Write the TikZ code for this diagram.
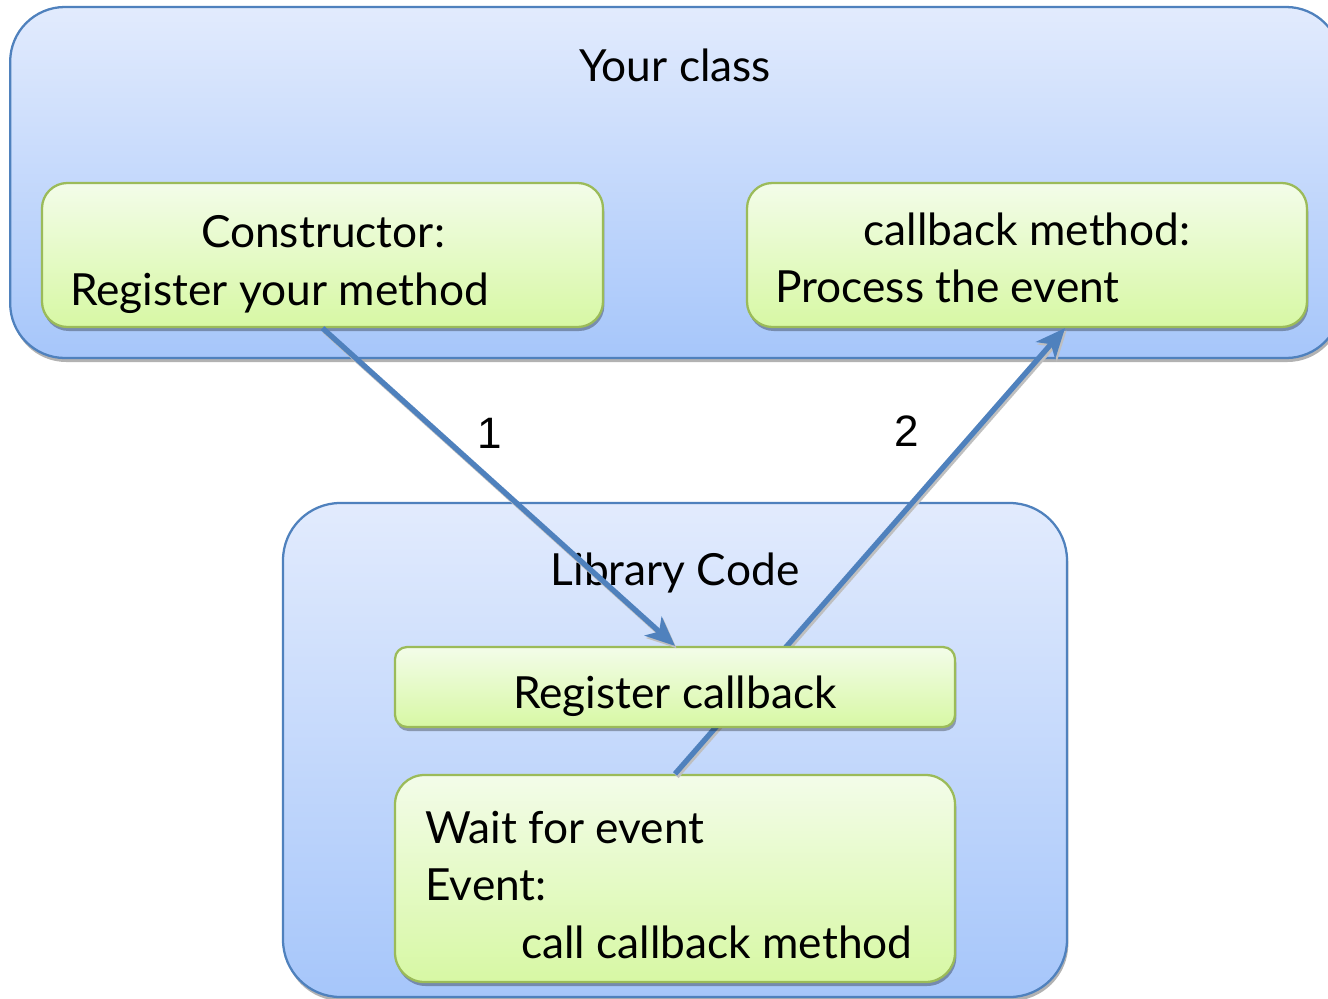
\documentclass[tikz,border=0pt]{standalone}
\usepackage{fontspec}
\setmainfont{Lato}
\newfontfamily\numfont{Liberation Sans}
\usetikzlibrary{arrows.meta,shadows}
\definecolor{bluebd}{RGB}{79,129,189}
\definecolor{bluetop}{RGB}{226,235,253}
\definecolor{bluebot}{RGB}{166,198,250}
\definecolor{greenbd}{RGB}{155,187,89}
\definecolor{greentop}{RGB}{243,252,233}
\definecolor{greenbot}{RGB}{215,248,164}
\tikzset{
  bluebox/.style={draw=bluebd, line width=1.7pt, top color=bluetop, bottom color=bluebot,
    drop shadow={shadow xshift=1pt, shadow yshift=-3pt, opacity=0.3, fill=black}, inner sep=0},
  greenbox/.style={draw=greenbd, line width=1.7pt, top color=greentop, bottom color=greenbot,
    drop shadow={shadow xshift=1pt, shadow yshift=-3pt, opacity=0.3, fill=black}, inner sep=0},
  lbl/.style={inner sep=0, font=\fontsize{33.2}{40}\selectfont},
  num/.style={inner sep=0, font=\numfont\fontsize{33}{40}\selectfont},
  conn/.style={line width=4pt, draw=bluebd, -{Stealth[length=22pt,width=19pt,inset=6pt]},
    preaction={draw=black!25, line width=4pt, transform canvas={xshift=1.2pt,yshift=-1.8pt}}},
}
\begin{document}
\begin{tikzpicture}[x=0.75pt,y=-0.75pt]
\useasboundingbox (0,0) rectangle (1328,999);
\fill[white] (0,0) rectangle (1328,999);
\clip (0,0) rectangle (1328,999);
% Your class
\node[bluebox, rounded corners=41pt, minimum width=998pt, minimum height=263.25pt] (cls) at (675.5,182.5) {};
\node[lbl, anchor=base] (clst) at (675,82) {Your class};
\node[greenbox, rounded corners=19pt, minimum width=420.75pt, minimum height=108pt] (ctor) at (322.5,255) {};
\node[greenbox, rounded corners=19pt, minimum width=420pt, minimum height=108pt] (cb) at (1027,255) {};
\node[lbl, anchor=base] (ctort1) at (323,247) {Constructor:};
\node[lbl, anchor=base west] (ctort2) at (70,305) {Register your method};
\node[lbl, anchor=base] (cbt1) at (1027,245) {callback method:};
\node[lbl, anchor=base west] (cbt2) at (775,302) {Process the event};
% Library
\node[bluebox, rounded corners=43pt, minimum width=588pt, minimum height=370.5pt] (lib) at (675,750) {};
\node[lbl, anchor=base] (libt) at (675,585) {Library Code};
\node[greenbox, rounded corners=22pt, minimum width=420pt, minimum height=155.25pt] (wait) at (675,878.5) {};
\draw[conn] (wait.north) -- ([xshift=28.5pt]cb.south);
\node[greenbox, rounded corners=9pt, minimum width=420pt, minimum height=60pt] (reg) at (675,687) {};
\node[lbl, anchor=base] (regt) at (675,708) {Register callback};
\node[lbl, anchor=base west] (w1) at (425,843) {Wait for event};
\node[lbl, anchor=base west] (w2) at (425,900) {Event:};
\node[lbl, anchor=base west] (w3) at (521,958) {call callback method};
\draw[conn] (ctor.south) -- (reg.north);
\node[num] (n1) at (490,433) {1};
\node[num] (n2) at (907,431) {2};
\end{tikzpicture}
\end{document}
